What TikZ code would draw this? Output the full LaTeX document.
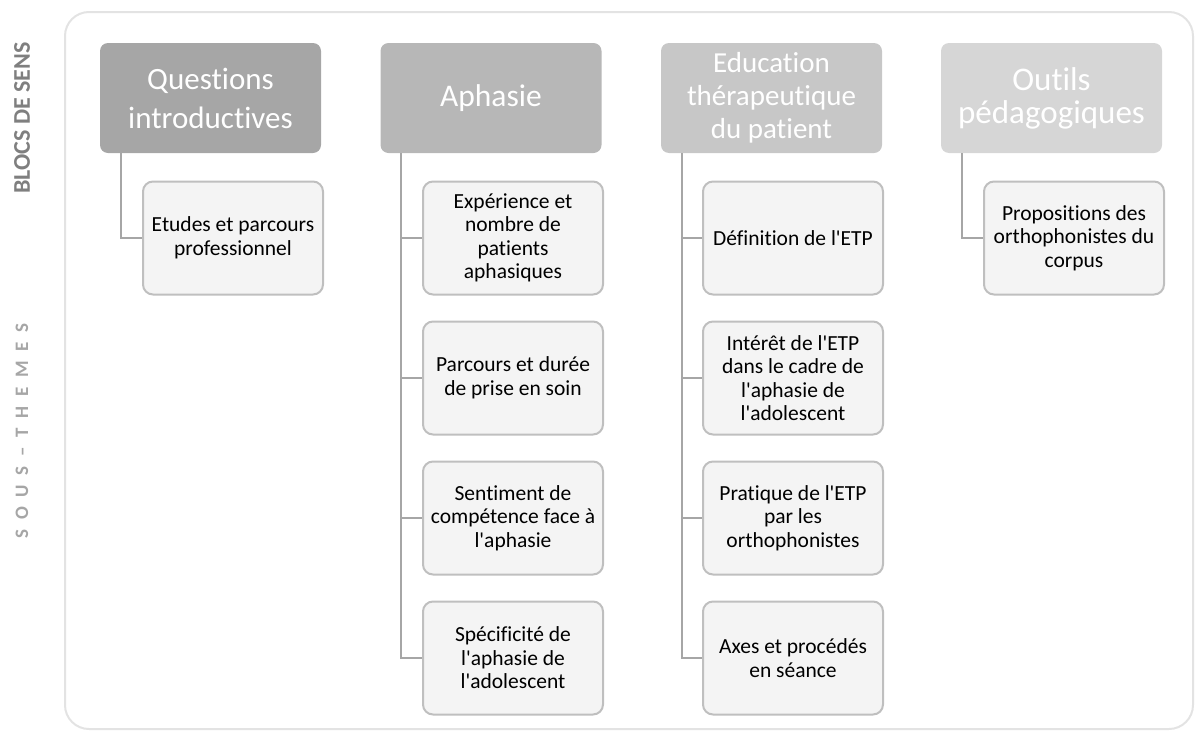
\documentclass[tikz,border=0pt]{standalone}
\usepackage{fontspec}
\setmainfont{Carlito}
\newfontfamily\calib{Carlito}[Ligatures=NoCommon]
\usetikzlibrary{positioning}

\definecolor{framegray}{HTML}{E3E3E3}
\definecolor{headA}{HTML}{A6A6A6}
\definecolor{headB}{HTML}{B7B7B7}
\definecolor{headC}{HTML}{C7C7C7}
\definecolor{headD}{HTML}{D6D6D6}
\definecolor{kidfill}{HTML}{F4F4F4}
\definecolor{kidline}{HTML}{BFBFBF}
\definecolor{conngray}{HTML}{A6A6A6}
\definecolor{labeldark}{HTML}{7F7F7F}
\definecolor{labellight}{HTML}{A6A6A6}

\begin{document}
\begin{tikzpicture}[x=1pt,y=-1pt,
    head/.style={rounded corners=8pt, minimum width=221pt, minimum height=110pt,
        inner sep=0pt, text=white, align=center},
    kid/.style={draw=kidline, fill=kidfill, line width=2pt, rounded corners=10pt,
        minimum width=180pt, minimum height=113pt, inner sep=0pt, align=center,
        font=\calib\fontsize{21.5}{23.5}\selectfont},
    conn/.style={draw=conngray, line width=2pt}]
    \useasboundingbox (0,0) rectangle (1195,734);
    \draw[framegray, line width=2pt, rounded corners=24pt] (65,12) rectangle (1193,729);

    % side labels
    \node[rotate=90, text=labeldark, font=\calib\bfseries\fontsize{24}{24}\selectfont] (blocs) at (22,118) {BLOCS DE SENS};
    \node[rotate=90, text=labellight, font=\calib\bfseries\fontsize{19}{19}\selectfont\addfontfeatures{LetterSpace=51}] (sous) at (22,431) {SOUS–THEMES};

    % blocs de sens
    \node[head, fill=headA, font=\calib\fontsize{31}{39}\selectfont] (qhead) at (210.5,98) {Questions\\introductives};
    \node[head, fill=headB, font=\calib\fontsize{31.5}{38}\selectfont] (ahead) at (491,98) {Aphasie};
    \node[head, fill=headC, font=\calib\fontsize{29}{33}\selectfont] (ehead) at (771.5,98) {Education\\thérapeutique\\du patient};
    \node[head, fill=headD, font=\calib\fontsize{33}{33}\selectfont] (ohead) at (1051.5,98) {Outils\\pédagogiques};

    % sous-themes
    \node[kid] (q1) at (233,238) {Etudes et parcours\\professionnel};

    \node[kid] (a1) at (513,238) {Expérience et\\nombre de\\patients\\aphasiques};
    \node[kid] (a2) at (513,378) {Parcours et durée\\de prise en soin};
    \node[kid] (a3) at (513,518) {Sentiment de\\compétence face à\\l'aphasie};
    \node[kid] (a4) at (513,658) {Spécificité de\\l'aphasie de\\l'adolescent};

    \node[kid] (e1) at (793,238) {Définition de l'ETP};
    \node[kid] (e2) at (793,378) {Intérêt de l'ETP\\dans le cadre de\\l'aphasie de\\l'adolescent};
    \node[kid] (e3) at (793,518) {Pratique de l'ETP\\par les\\orthophonistes};
    \node[kid] (e4) at (793,658) {Axes et procédés\\en séance};

    \node[kid] (o1) at (1074,238) {Propositions des\\orthophonistes du\\corpus};

    % connectors
    \draw[conn] ([xshift=21pt]qhead.south west) |- (q1.west);
    \foreach \k in {a1,a2,a3,a4}
        \draw[conn] ([xshift=21pt]ahead.south west) |- (\k.west);
    \foreach \k in {e1,e2,e3,e4}
        \draw[conn] ([xshift=21pt]ehead.south west) |- (\k.west);
    \draw[conn] ([xshift=21pt]ohead.south west) |- (o1.west);
\end{tikzpicture}
\end{document}
